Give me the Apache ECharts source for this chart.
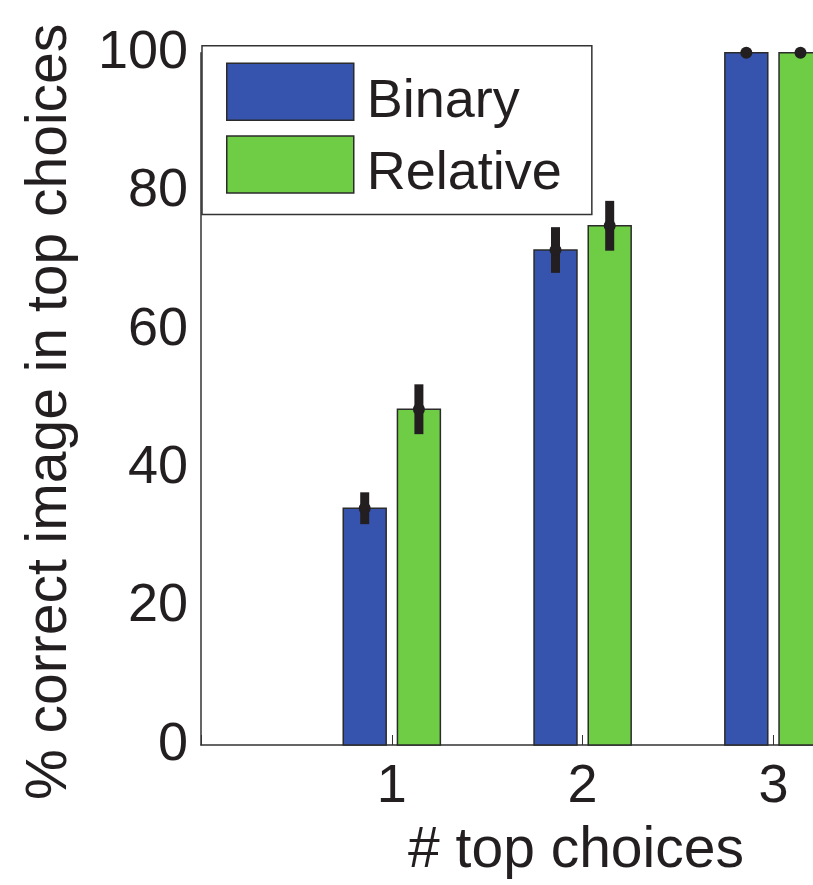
<!DOCTYPE html>
<html>
<head>
<meta charset="utf-8">
<script src="https://cdn.jsdelivr.net/npm/echarts@6/dist/echarts.min.js"></script>
<style>
html,body{margin:0;padding:0;background:#fff;}
#chart{width:813px;height:885px;}
</style>
</head>
<body>
<div id="chart"></div>
<script>
// ---- data ----
const categories = [1, 2, 3];
const binaryValues = [34.2, 71.5, 100];
const binaryErr = [2.3, 3.3, 0];
const relativeValues = [48.5, 75.0, 100];
const relativeErr = [3.6, 3.6, 0];
const yTicks = [0, 20, 40, 60, 80, 100];
const seriesNames = ['Binary', 'Relative'];

// ---- style ----
const BLUE = '#3653AD';
const GREEN = '#6ECC45';
const EDGE = '#2b2b2b';
const INK = '#231F20';
const FONT = 'Liberation Sans, Arial, Helvetica, sans-serif';
const BAR_W = 0.225;   // bar width in x-axis units
const OFFSET = 0.142;  // bar centre offset from category

function makeRender(offset, color) {
  return function (params, api) {
    const x = api.value(0), y = api.value(1), e = api.value(2);
    const top = api.coord([x + offset, y]);
    const base = api.coord([x + offset, 0]);
    const w = api.size([BAR_W, 0])[0];
    const hi = api.coord([x + offset, y + e]);
    const lo = api.coord([x + offset, y - e]);
    const children = [
      {
        type: 'rect',
        shape: { x: top[0] - w / 2, y: top[1], width: w, height: base[1] - top[1] },
        style: { fill: color, stroke: EDGE, lineWidth: 1.5 }
      }
    ];
    if (e > 0) {
      children.push({
        type: 'line',
        shape: { x1: top[0], y1: hi[1], x2: top[0], y2: lo[1] },
        style: { stroke: INK, lineWidth: 9, lineCap: 'butt' }
      });
    }
    children.push({
      type: 'circle',
      shape: { cx: top[0], cy: top[1], r: 6 },
      style: { fill: INK }
    });
    return { type: 'group', children: children };
  };
}

const chart = echarts.init(document.getElementById('chart'), null, { renderer: 'canvas' });
chart.setOption({
  backgroundColor: '#fff',
  animation: false,
  textStyle: { fontFamily: FONT, color: INK },
  grid: { left: 201, right: 0, top: 52.7, bottom: 139.3, containLabel: false },
  legend: {
    orient: 'vertical',
    left: 202,
    top: 45.7,
    padding: [16.8, 30, 13, 24],
    itemGap: 6.5,
    itemWidth: 127,
    itemHeight: 57,
    backgroundColor: '#fff',
    borderColor: '#333',
    borderWidth: 1.5,
    borderRadius: 0,
    formatter: function (name) { return '{t|' + name + '}'; },
    textStyle: {
      fontSize: 54, fontFamily: FONT, color: INK,
      rich: { t: { fontSize: 54, fontFamily: FONT, color: INK, padding: [20, 0, 0, 8] } }
    },
    data: [
      { name: seriesNames[0], icon: 'rect', itemStyle: { color: BLUE, borderColor: EDGE, borderWidth: 1.5 } },
      { name: seriesNames[1], icon: 'rect', itemStyle: { color: GREEN, borderColor: EDGE, borderWidth: 1.5 } }
    ],
    selectedMode: false,
    z: 10
  },
  xAxis: {
    type: 'value',
    min: 0,
    max: 3.2075,
    interval: 1,
    name: '# top choices',
    nameLocation: 'middle',
    nameGap: 78,
    nameTextStyle: { fontSize: 57, fontFamily: FONT, color: INK, padding: [0, 0, 0, 138] },
    axisLine: { show: true, onZero: false, lineStyle: { color: '#333', width: 1.5 } },
    axisTick: { show: true, inside: true, length: 10, lineStyle: { color: '#333', width: 1 } },
    splitLine: { show: false },
    axisLabel: {
      fontSize: 54, fontFamily: FONT, color: INK, margin: 15,
      showMaxLabel: false,
      formatter: function (v) { return categories.indexOf(v) >= 0 ? String(v) : ''; }
    }
  },
  yAxis: {
    type: 'value',
    min: yTicks[0],
    max: yTicks[yTicks.length - 1],
    interval: yTicks[1] - yTicks[0],
    name: '% correct image in top choices',
    nameLocation: 'middle',
    nameGap: 122,
    nameTextStyle: { fontSize: 57, fontFamily: FONT, color: INK, padding: [0, 26, 0, 0] },
    axisLine: { show: true, lineStyle: { color: '#333', width: 1.5 } },
    axisTick: { show: false },
    splitLine: { show: false },
    axisLabel: { fontSize: 54, fontFamily: FONT, color: INK, margin: 13 }
  },
  series: [
    {
      name: seriesNames[0],
      type: 'custom',
      clip: false,
      renderItem: makeRender(-OFFSET, BLUE),
      itemStyle: { color: BLUE },
      encode: { x: 0, y: 1 },
      data: categories.map((c, i) => [c, binaryValues[i], binaryErr[i]])
    },
    {
      name: seriesNames[1],
      type: 'custom',
      clip: false,
      renderItem: makeRender(OFFSET, GREEN),
      itemStyle: { color: GREEN },
      encode: { x: 0, y: 1 },
      data: categories.map((c, i) => [c, relativeValues[i], relativeErr[i]])
    }
  ]
});
</script>
</body>
</html>
